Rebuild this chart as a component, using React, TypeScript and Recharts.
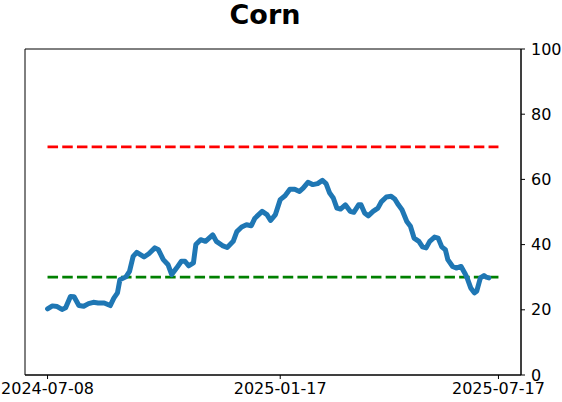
import React from 'react';
import { ComposedChart, Line, XAxis, YAxis, ReferenceArea } from 'recharts';

// days since 2024-07-08
const days = [0, 4, 8, 12, 15, 19, 22, 26, 30, 34, 38, 42, 47, 52, 55, 58, 60, 65, 68, 71, 74, 80, 84, 89, 92, 96, 100, 103, 107, 111, 114, 117, 121, 123, 127, 131, 137, 140, 145, 149, 154, 157, 161, 165, 169, 172, 178, 182, 185, 189, 193, 197, 201, 205, 209, 212, 216, 220, 224, 228, 231, 234, 237, 240, 243, 247, 251, 254, 258, 260, 263, 266, 270, 274, 277, 281, 285, 288, 291, 294, 298, 301, 304, 308, 311, 314, 317, 321, 324, 327, 330, 332, 336, 339, 343, 346, 348, 351, 354, 356, 359, 362, 364, 366];
const values = [20.3, 21.2, 21.0, 20.1, 20.6, 24.1, 24.0, 21.3, 21.1, 21.9, 22.3, 22.1, 22.1, 21.3, 23.6, 25.2, 29.2, 30.1, 31.8, 36.4, 37.6, 36.2, 37.2, 39.0, 38.4, 35.4, 33.8, 30.8, 32.8, 34.9, 34.9, 33.5, 34.4, 40.0, 41.5, 41.0, 43.0, 41.0, 39.7, 39.1, 41.0, 44.0, 45.4, 46.1, 45.8, 48.1, 50.2, 49.2, 47.4, 49.2, 53.8, 55.0, 57.0, 57.0, 56.3, 57.3, 59.1, 58.4, 58.7, 59.7, 58.7, 55.8, 54.3, 51.2, 50.9, 52.2, 50.2, 49.9, 52.2, 52.2, 49.7, 48.8, 50.2, 51.2, 53.2, 54.6, 54.8, 54.0, 52.2, 50.7, 47.1, 45.6, 42.0, 41.0, 39.3, 39.0, 41.0, 42.3, 42.0, 39.3, 38.4, 35.4, 33.3, 32.8, 33.3, 31.3, 29.8, 26.7, 25.2, 25.7, 29.8, 30.5, 30.0, 29.8];

const tickDays = [0, 193, 374];
const tickLabels = ['2024-07-08', '2025-01-17', '2025-07-17'];
const yTicks = [0, 20, 40, 60, 80, 100];
const upperLevel = 70;
const lowerLevel = 30;
const rangeStart = 0;
const rangeEnd = 374;
const xDomain: [number, number] = [-18.7, 392.7];

const rows = days.map((t, i) => ({ t, v: values[i] }));
const upperRows = [{ t: rangeStart, y: upperLevel }, { t: rangeEnd, y: upperLevel }];
const lowerRows = [{ t: rangeStart, y: lowerLevel }, { t: rangeEnd, y: lowerLevel }];

const font = 'DejaVu Sans';

export default function App() {
  return (
    <div style={{ position: 'absolute', left: 0, top: 0, width: 562, height: 402, background: '#fff' }}>
      <svg style={{ position: 'absolute', left: 0, top: 0 }} width={562} height={48}>
        <text x={265} y={24} textAnchor="middle" fontFamily={font} fontWeight="bold" fontSize={27} fill="#000">Corn</text>
      </svg>
      <div style={{ position: 'absolute', left: 0, top: 0 }}>
        <ComposedChart width={562} height={402} data={rows} margin={{ top: 49, right: 0, left: 25, bottom: 0 }}>
          <XAxis
            dataKey="t"
            type="number"
            domain={xDomain}
            allowDataOverflow
            ticks={tickDays}
            tickFormatter={(d: number) => tickLabels[tickDays.indexOf(d)] ?? ''}
            height={27}
            tickSize={4}
            tickMargin={4}
            stroke="#000"
            tick={{ fill: '#000', fontSize: 16, fontFamily: font }}
            interval={0}
          />
          <YAxis
            orientation="right"
            domain={[0, 100]}
            ticks={yTicks}
            width={41}
            tickSize={4}
            tickMargin={6}
            stroke="#000"
            tick={{ fill: '#000', fontSize: 16, fontFamily: font }}
            interval={0}
          />
          <ReferenceArea x1={xDomain[0]} x2={xDomain[1]} y1={0} y2={100} fill="none" fillOpacity={0} stroke="#000" strokeWidth={1} ifOverflow="visible" />
          <Line data={upperRows} dataKey="y" stroke="#ff0000" strokeWidth={2.8} strokeDasharray="10.5 4.2" dot={false} isAnimationActive={false} />
          <Line data={lowerRows} dataKey="y" stroke="#008000" strokeWidth={2.8} strokeDasharray="10.5 4.2" dot={false} isAnimationActive={false} />
          <Line dataKey="v" stroke="#1f77b4" strokeWidth={5} strokeLinejoin="round" strokeLinecap="round" dot={false} isAnimationActive={false} type="linear" />
        </ComposedChart>
      </div>
    </div>
  );
}
